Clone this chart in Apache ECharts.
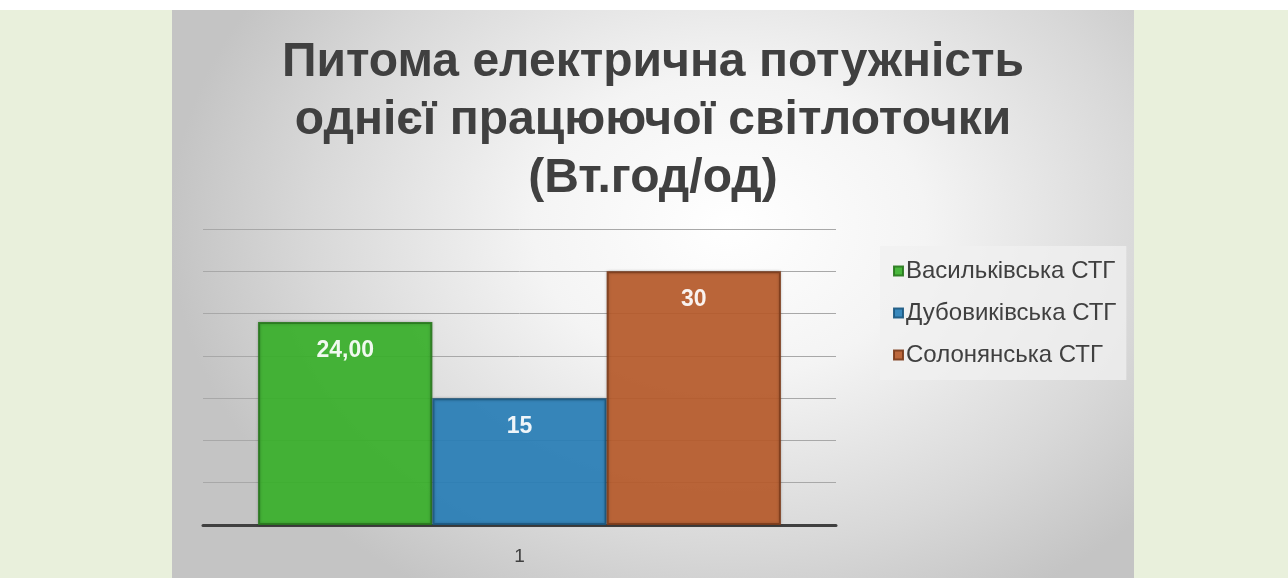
<!DOCTYPE html>
<html>
<head>
<meta charset="utf-8">
<script src="https://cdn.jsdelivr.net/npm/echarts@6/dist/echarts.min.js"></script>
<style>
  html, body { margin: 0; padding: 0; }
  body { width: 1288px; height: 578px; background: #e9f0dc; position: relative; overflow: hidden; }
  .top-strip { position: absolute; left: 0; top: 0; width: 1288px; height: 10px; background: #ffffff; }
  #chart {
    position: absolute; left: 172px; top: 10px; width: 962px; height: 568px;
    background: radial-gradient(ellipse 560px 430px at 58% 38%, #ffffff 0%, #f4f4f4 35%, #d8d8d8 75%, #c4c4c4 100%);
  }
</style>
</head>
<body>
<div class="top-strip"></div>
<div id="chart"></div>
<script>
const titleText = 'Питома електрична потужність\nоднієї працюючої світлоточки\n(Вт.год/од)'
const categories = ['1']
const seriesNames = ['Васильківська СТГ', 'Дубовиківська СТГ', 'Солонянська СТГ']
const seriesValues = [24, 15, 30]
const seriesLabels = ['24,00', '15', '30']
const seriesColors = ['#3bb22d', '#2a80b9', '#b95c2c']
const seriesBorders = ['#2a7a20', '#1d5a82', '#7e3d1c']

const chart = echarts.init(document.getElementById('chart'))

const series = seriesNames.map((name, i) => ({
  name: name,
  type: 'bar',
  barGap: '0%',
  barCategoryGap: '17.4%',
  data: [seriesValues[i]],
  itemStyle: {
    color: seriesColors[i],
    borderColor: seriesBorders[i],
    borderWidth: 2,
    opacity: 0.92,
    shadowColor: 'rgba(0,0,0,0.25)',
    shadowBlur: 3
  },
  label: {
    show: true,
    position: 'insideTop',
    distance: 17,
    color: '#ffffff',
    fontWeight: 'bold',
    fontSize: 23,
    fontFamily: 'Liberation Sans',
    formatter: () => seriesLabels[i]
  }
}))

const option = {
  animation: false,
  title: {
    text: titleText,
    left: 'center',
    top: 19,
    textStyle: {
      color: '#404040',
      fontSize: 48,
      fontWeight: 'bold',
      fontFamily: 'Liberation Sans',
      lineHeight: 58
    }
  },
  legend: {
    orient: 'vertical',
    left: 708,
    top: 236,
    padding: [13, 10, 13, 13],
    itemGap: 18,
    itemWidth: 9,
    itemHeight: 9,
    icon: 'rect',
    backgroundColor: 'rgba(240,240,240,0.75)',
    textStyle: {
      color: '#404040',
      fontSize: 24,
      fontFamily: 'Liberation Sans',
      padding: [0, 0, 0, -2]
    },
    data: seriesNames
  },
  grid: {
    left: 31,
    right: 298,
    top: 219,
    bottom: 53
  },
  xAxis: {
    type: 'category',
    data: categories,
    axisLine: { lineStyle: { color: '#404040', width: 3 } },
    axisTick: { show: false },
    axisLabel: {
      color: '#404040',
      fontSize: 19,
      fontFamily: 'Liberation Sans',
      margin: 22
    }
  },
  yAxis: {
    type: 'value',
    min: 0,
    max: 35,
    interval: 5,
    axisLine: { show: false },
    axisTick: { show: false },
    axisLabel: { show: false },
    splitLine: { lineStyle: { color: '#a8a8a8', width: 1 } }
  },
  series: series
}

chart.setOption(option)
</script>
</body>
</html>
